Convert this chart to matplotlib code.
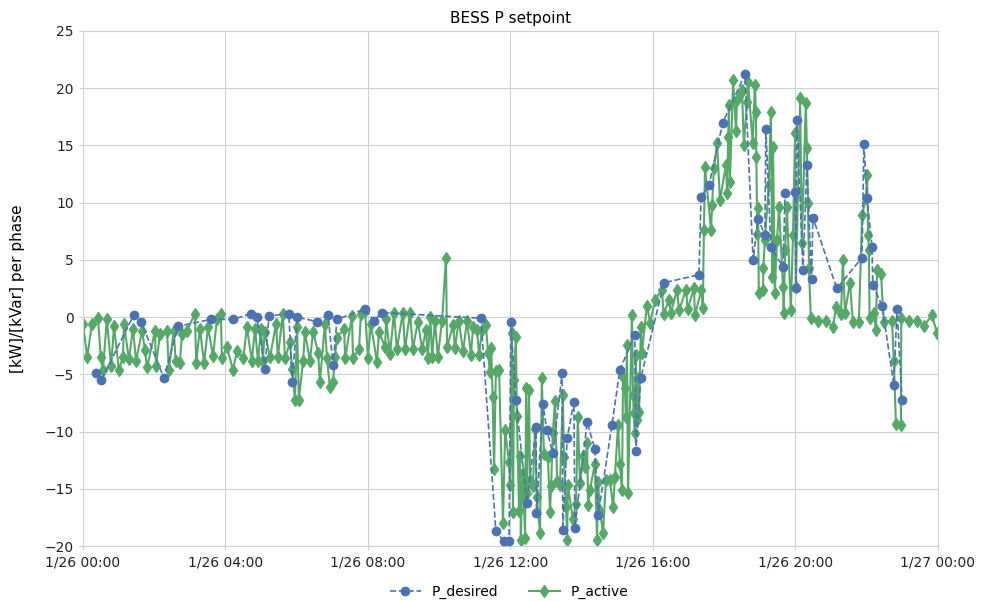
import pandas as pd
import matplotlib
matplotlib.use("Agg")
import matplotlib.pyplot as plt
import matplotlib.dates as mdates

# P_desired setpoints: hour of day, value
desired_h = [0.36, 0.51, 1.43, 1.63, 2.27, 2.67, 3.59, 4.21, 4.72, 4.88, 5.11, 5.22, 5.78, 5.87,
             6.01, 6.57, 6.88, 7.02, 7.13, 7.92, 8.17, 8.39, 11.17, 11.59, 11.82, 11.96, 12.01,
             12.15, 12.46, 12.72, 12.73, 12.91, 13.02, 13.19, 13.45, 13.47, 13.59, 13.78, 13.81,
             14.15, 14.37, 14.46, 14.85, 15.07, 15.49, 15.52, 15.66, 16.31, 17.29, 17.35, 17.57,
             17.96, 18.58, 18.81, 18.95, 19.14, 19.17, 19.31, 19.65, 19.71, 19.99, 20.01, 20.04,
             20.21, 20.32, 20.45, 20.49, 21.16, 21.87, 21.92, 22.01, 22.15, 22.17, 22.43, 22.76,
             22.85, 22.99]
desired_v = [-4.9, -5.5, 0.2, -0.4, -5.3, -0.8, -0.2, -0.2, 0.3, 0.0, -4.5, 0.1, 0.3, -5.7,
             0.0, -0.4, 0.2, -4.2, -0.2, 0.7, -0.3, 0.4, -0.1, -18.7, -19.6, -19.6, -0.4,
             -7.2, -16.2, -9.6, -17.1, -7.6, -9.9, -11.9, -4.9, -18.6, -10.6, -7.4, -18.4,
             -9.2, -11.5, -17.3, -9.4, -4.6, -1.6, -11.7, -5.3, 3.0, 3.7, 10.5, 11.5,
             17.0, 21.2, 5.0, 8.6, 7.2, 16.4, 6.1, 4.4, 10.8, 10.9, 2.5, 17.2,
             4.1, 13.3, 3.3, 8.7, 2.5, 5.2, 15.1, 10.4, 6.1, 2.8, 1.0, -5.9,
             0.7, -7.2]

# P_active measurements: hour of day, value
active_h = [0.00, 0.12, 0.25, 0.42, 0.50, 0.56, 0.67, 0.79, 0.87, 1.01, 1.12, 1.15, 1.29, 1.40,
            1.49, 1.66, 1.74, 1.80, 2.02, 2.05, 2.16, 2.36, 2.41, 2.55, 2.60, 2.72, 2.78, 2.92,
            3.14, 3.18, 3.28, 3.40, 3.51, 3.65, 3.76, 3.87, 3.90, 4.04, 4.21, 4.32, 4.50, 4.60,
            4.74, 4.83, 4.91, 5.00, 5.05, 5.10, 5.25, 5.42, 5.47, 5.61, 5.67, 5.81, 5.87, 5.95,
            6.01, 6.06, 6.18, 6.23, 6.37, 6.46, 6.60, 6.65, 6.79, 6.85, 6.93, 7.02, 7.07, 7.13,
            7.33, 7.36, 7.55, 7.58, 7.75, 7.80, 7.92, 8.00, 8.08, 8.25, 8.31, 8.48, 8.51, 8.62,
            8.73, 8.81, 8.98, 9.04, 9.18, 9.26, 9.40, 9.52, 9.63, 9.68, 9.75, 9.80, 9.88, 9.96,
            10.08, 10.19, 10.22, 10.39, 10.44, 10.55, 10.67, 10.78, 10.89, 10.95, 11.06, 11.12,
            11.20, 11.31, 11.37, 11.42, 11.46, 11.50, 11.54, 11.59, 11.68, 11.79, 11.85, 11.96,
            11.99, 12.04, 12.07, 12.10, 12.15, 12.18, 12.24, 12.27, 12.29, 12.32, 12.35, 12.41,
            12.44, 12.46, 12.52, 12.55, 12.63, 12.69, 12.74, 12.83, 12.88, 12.94, 13.05, 13.11,
            13.14, 13.19, 13.25, 13.31, 13.39, 13.47, 13.50, 13.56, 13.59, 13.61, 13.75, 13.84,
            13.89, 13.95, 14.04, 14.09, 14.15, 14.18, 14.23, 14.37, 14.43, 14.46, 14.51, 14.60,
            14.68, 14.79, 14.88, 14.93, 15.02, 15.07, 15.13, 15.16, 15.21, 15.24, 15.27, 15.30,
            15.41, 15.44, 15.46, 15.49, 15.52, 15.55, 15.58, 15.61, 15.66, 15.69, 15.83, 15.92,
            16.06, 16.25, 16.30, 16.45, 16.50, 16.68, 16.73, 16.93, 16.97, 17.15, 17.18, 17.36,
            17.40, 17.43, 17.46, 17.63, 17.66, 17.71, 17.80, 17.88, 18.05, 18.08, 18.11, 18.13,
            18.16, 18.25, 18.33, 18.36, 18.47, 18.50, 18.55, 18.64, 18.67, 18.80, 18.86, 18.89,
            18.90, 18.93, 18.95, 18.97, 19.09, 19.10, 19.14, 19.25, 19.31, 19.35, 19.37, 19.42,
            19.48, 19.54, 19.65, 19.67, 19.71, 19.76, 19.87, 19.93, 19.99, 20.01, 20.13, 20.18,
            20.29, 20.32, 20.35, 20.38, 20.43, 20.63, 20.86, 21.05, 21.14, 21.28, 21.33, 21.39,
            21.53, 21.61, 21.78, 21.87, 21.98, 22.01, 22.04, 22.06, 22.08, 22.20, 22.26, 22.29,
            22.40, 22.48, 22.71, 22.76, 22.82, 22.96, 22.97, 23.19, 23.41, 23.61, 23.83, 23.97]
active_v = [-0.6, -3.5, -0.6, -0.1, -3.5, -4.6, -0.2, -4.3, -0.8, -4.6, -3.5, -0.6, -3.7, -1.0,
            -3.8, -1.2, -2.9, -4.4, -1.2, -4.3, -1.5, -1.2, -4.6, -1.2, -3.8, -4.0, -1.5, -1.2,
            0.3, -4.0, -1.0, -4.0, -0.9, -3.4, -0.2, 0.3, -3.6, -2.6, -4.6, -3.0, -3.6, -0.9,
            -3.8, -1.0, -3.8, -1.0, -3.8, -1.3, -3.5, -0.6, -3.5, 0.3, -3.6, -2.2, -4.5, -7.2,
            -0.9, -7.2, -3.8, -1.3, -3.8, -1.3, -3.1, -5.7, -0.6, -3.6, -6.1, -5.7, -3.5, -1.8,
            -1.0, -3.6, 0.1, -3.6, -2.8, 0.3, 0.5, -3.6, -0.6, -3.9, -1.3, -2.6, -0.2, -3.2,
            0.4, -2.8, 0.4, -2.8, 0.4, -2.8, -0.4, -2.8, -1.1, -3.6, 0.0, -3.5, -0.3, -3.5,
            -0.3, 5.2, -2.6, -0.7, -2.7, -0.3, -3.0, -0.3, -3.3, -0.9, -1.1, -3.3,
            -1.1, -0.7, -3.1, -4.8, -2.7, -7.0, -13.3, -4.7, -4.6, -18.0, -9.9, -12.7,
            -14.7, -1.4, -17.0, -5.5, -1.7, -8.6, -16.9, -12.1, -19.5, -15.4, -13.6, -19.3,
            -6.2, -15.4, -6.4, -14.2, -14.8, -9.8, -15.7, -18.9, -5.3, -12.0, -12.2, -17.0,
            -14.8, -10.1, -7.3, -14.3, -14.7, -6.8, -12.2, -16.6, -19.5, -14.7, -17.6, -16.3,
            -8.7, -14.5, -12.1, -13.1, -11.0, -16.4, -15.1, -12.8, -19.5, -14.4, -16.9, -18.9,
            -14.2, -14.2, -16.6, -14.0, -9.4, -12.8, -15.1, -5.2, -6.2, -8.7, -2.4, -15.4,
            0.2, -6.8, -8.4, -10.1, -3.3, -9.0, -5.3, -8.3, -0.9, -3.1, 1.0, -0.5,
            1.5, 2.4, 0.3, 1.5, 0.4, 2.4, 0.6, 2.4, 0.7, 2.5, 0.2, 2.4,
            0.8, 7.6, 13.1, 7.6, 9.8, 13.0, 15.2, 10.2, 13.3, 10.8, 15.7, 18.5,
            11.8, 20.7, 16.3, 19.0, 19.6, 19.8, 15.0, 18.8, 20.5, 15.2, 20.3, 17.9,
            14.0, 7.3, 9.5, 2.1, 2.4, 4.3, 6.7, 11.5, 17.9, 3.5, 14.9, 2.1,
            6.7, 9.6, 2.6, 0.4, 5.9, 9.6, 0.6, 7.2, 16.1, 2.6, 19.1, 6.5,
            18.7, 14.8, 10.0, 4.3, -0.1, -0.3, -0.3, -0.9, 0.9, 0.3, 5.0, 0.4,
            3.0, -0.4, -0.4, 8.9, 10.4, 12.4, 7.2, 5.9, -0.1, 0.4, -1.1, 4.1,
            3.8, -0.4, -0.3, -3.8, -9.3, -9.4, -0.1, -0.3, -0.3, -0.8, 0.2, -1.4]

day = pd.Timestamp("2021-01-26")
t_desired = day + pd.to_timedelta(desired_h, unit="h")
t_active = day + pd.to_timedelta(active_h, unit="h")

blue = "#4c72b0"
green = "#55a868"
grid_c = "#d0d0d0"

fig = plt.figure(figsize=(9.89, 6.01), dpi=100)
ax = fig.add_axes([0.0839, 0.0915, 0.8645, 0.857])

ax.plot(t_desired, desired_v, linestyle="--", color=blue, marker="o",
        markersize=6, linewidth=1.2, label="P_desired", zorder=3)
ax.plot(t_active, active_v, linestyle="-", color=green, marker="d",
        markersize=6.5, linewidth=1.5, label="P_active", zorder=2)

ax.set_xlim(day, day + pd.Timedelta(hours=24))
ax.set_ylim(-20, 25)
ax.set_yticks(range(-20, 26, 5))
ax.xaxis.set_major_locator(mdates.HourLocator(byhour=range(0, 24, 4)))
ax.xaxis.set_major_formatter(mdates.DateFormatter("%-m/%d %H:%M"))

ax.grid(True, color=grid_c, linewidth=0.8)
ax.set_axisbelow(True)
for s in ax.spines.values():
    s.set_color(grid_c)
ax.tick_params(colors="#222222", labelsize=10, length=3, color=grid_c)

ax.set_title("BESS P setpoint", fontsize=11)
ax.set_ylabel("[kW]/[kVar] per phase", fontsize=11, labelpad=14)

fig.legend(loc="lower center", ncol=2, frameon=False, fontsize=10,
           bbox_to_anchor=(0.515, -0.017), handlelength=2.2, columnspacing=2.2)

fig.savefig("out.png", dpi=100)
